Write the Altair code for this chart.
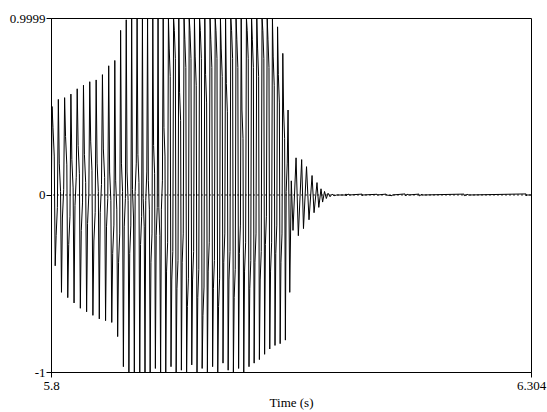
import altair as alt
import pandas as pd

# ---- data (time in s, amplitude) ----
t_start = 5.8
v_start = -0.25

t_peak = [5.8011, 5.8077, 5.8143, 5.8209, 5.8275, 5.8341, 5.8407, 5.8474, 5.8540, 5.8606,
          5.8670, 5.8731, 5.8790, 5.8847, 5.8904, 5.8960, 5.9014, 5.9069, 5.9124, 5.9178,
          5.9233, 5.9287, 5.9342, 5.9397, 5.9451, 5.9506, 5.9560, 5.9615, 5.9670, 5.9724,
          5.9779, 5.9833, 5.9888, 5.9943, 5.9997, 6.0052, 6.0106, 6.0161, 6.0216, 6.0270,
          6.0325, 6.0379, 6.0434, 6.0489]
v_peak = [0.50, 0.54, 0.55, 0.57, 0.60, 0.62, 0.64, 0.65, 0.68, 0.73,
          0.76, 0.93, 0.99, 0.9999, 0.9999, 0.9999, 0.9999, 0.9999, 0.9999, 0.9999,
          0.9999, 0.9999, 0.9999, 0.9999, 0.9999, 0.9999, 0.9999, 0.9999, 0.9999, 0.9999,
          0.9999, 0.9999, 0.9999, 0.9999, 0.9999, 0.9999, 0.9999, 0.9999, 0.9999, 0.9999,
          0.9999, 0.95, 0.80, 0.48]

t_trough = [5.8044, 5.8110, 5.8176, 5.8242, 5.8308, 5.8374, 5.8440, 5.8507, 5.8573, 5.8638,
            5.8700, 5.8760, 5.8818, 5.8875, 5.8932, 5.8987, 5.9041, 5.9096, 5.9151, 5.9205,
            5.9260, 5.9314, 5.9369, 5.9424, 5.9478, 5.9533, 5.9587, 5.9642, 5.9697, 5.9751,
            5.9806, 5.9860, 5.9915, 5.9970, 6.0024, 6.0079, 6.0133, 6.0188, 6.0243, 6.0297,
            6.0352, 6.0406, 6.0461]
v_trough = [-0.40, -0.55, -0.58, -0.61, -0.64, -0.66, -0.68, -0.70, -0.71, -0.72,
            -0.80, -0.97, -1.0, -1.0, -1.0, -1.0, -1.0, -0.98, -1.0, -1.0,
            -0.97, -1.0, -0.99, -1.0, -0.96, -1.0, -0.98, -1.0, -0.97, -1.0,
            -0.95, -0.99, -1.0, -0.98, -1.0, -0.97, -0.95, -0.93, -0.90, -0.87,
            -0.85, -0.84, -0.82]

# level where the falling / rising stroke lingers in each half cycle
v_notch_down = [0.30, 0.10, 0.25, 0.12, 0.20, 0.15, 0.22, 0.10, 0.18, 0.05,
                0.00, 0.10, 0.05, -0.05, 0.15, -0.10, 0.00, 0.20, -0.15, 0.30,
                0.75, 0.85, 0.50, 0.80, 0.85, 0.70, 0.85, 0.60, 0.80, 0.85,
                0.75, 0.55, 0.85, 0.80, 0.40, 0.85, 0.80, 0.75, 0.85, 0.80,
                0.70, 0.60, 0.40]
v_notch_up = [-0.15, -0.05, -0.20, 0.02, -0.12, -0.08, -0.18, -0.02, -0.10, -0.25,
              -0.30, -0.10, -0.25, 0.10, -0.20, 0.05, -0.30, -0.15, 0.00, -0.35,
              -0.40, -0.45, -0.30, -0.55, -0.40, -0.50, -0.60, -0.35, -0.45, -0.55,
              -0.30, -0.40, -0.50, -0.25, -0.35, -0.45, -0.30, -0.40, -0.20, -0.35,
              -0.25, -0.30, 0.10]

t_decay = [6.0507, 6.0523, 6.0541, 6.0573, 6.0597, 6.0632, 6.0651, 6.0683, 6.0709, 6.0741,
           6.0762, 6.0793, 6.0812, 6.0835, 6.0852, 6.0872, 6.0891, 6.0909, 6.0930, 6.0951,
           6.0972, 6.1000]
v_decay = [-0.55, 0.08, -0.20, 0.21, -0.23, 0.20, -0.19, 0.16, -0.14, 0.11,
           -0.10, 0.07, -0.07, 0.035, -0.04, 0.02, -0.02, 0.01, -0.01, 0.005,
           -0.004, 0.0]

t_tail = [6.1095, 6.1097, 6.1099, 6.1101, 6.1129, 6.1131, 6.1266, 6.1268, 6.1270,
          6.1423, 6.1425, 6.1518, 6.1520, 6.1581, 6.1583, 6.1717, 6.1719, 6.1749, 6.1751,
          6.1864, 6.1866, 6.1896, 6.1898, 6.2337, 6.2339, 6.2378, 6.2380,
          6.2988, 6.2990, 6.2992, 6.3040]
v_tail = [0.0, 0.006, -0.005, 0.0, 0.005, 0.0, 0.005, -0.004, 0.0,
          0.004, 0.0, 0.005, 0.0, -0.004, 0.0, 0.006, -0.004, 0.005, 0.0,
          0.005, -0.005, 0.004, 0.0, 0.005, -0.004, 0.004, 0.0,
          0.006, -0.005, 0.0, 0.0]

y_ticks = [-1, 0, 0.9999]
x_ticks = [5.8, 6.304]

# ---- assemble the polyline: spike, linger at the notch level, spike ----
LINGER = 0.08
ts, vs = [t_start], [v_start]
for i in range(len(t_trough)):
    tp, tt, tn = t_peak[i], t_trough[i], t_peak[i + 1]
    ts += [tp, tp + 0.3 * (tt - tp), tp + 0.7 * (tt - tp),
           tt, tt + 0.3 * (tn - tt), tt + 0.7 * (tn - tt)]
    vs += [v_peak[i], v_notch_down[i] + LINGER, v_notch_down[i] - LINGER,
           v_trough[i], v_notch_up[i] - LINGER, v_notch_up[i] + LINGER]
ts.append(t_peak[-1]); vs.append(v_peak[-1])
ts += t_decay; vs += v_decay
ts += t_tail; vs += v_tail
wave = pd.DataFrame({"t": ts, "v": vs, "i": range(len(ts))})

FONT = "Liberation Serif, Times New Roman, serif"

x_enc = alt.X(
    "t:Q",
    scale=alt.Scale(domain=[5.8, 6.304], nice=False, zero=False),
    axis=alt.Axis(
        values=x_ticks, title="Time (s)", grid=False, labelFlush=False,
        labelExpr="datum.value == 5.8 ? '5.8' : '6.304'",
        tickSize=5, labelPadding=2, titlePadding=4,
        titleFont=FONT, titleFontSize=13, titleFontWeight="normal", titleColor="black",
        labelFont=FONT, labelFontSize=13, labelColor="black",
        domainColor="black", tickColor="black",
    ),
)
y_enc = alt.Y(
    "v:Q",
    scale=alt.Scale(domain=[-1, 0.9999], nice=False, zero=False),
    axis=alt.Axis(
        values=y_ticks, title=None, grid=False, labelFlush=False,
        labelExpr="datum.value == 0 ? '0' : (datum.value < 0 ? '-1' : '0.9999')",
        tickSize=5, labelPadding=1,
        labelFont=FONT, labelFontSize=13, labelColor="black",
        domainColor="black", tickColor="black",
    ),
)

line = alt.Chart(wave).mark_line(color="black", strokeWidth=1, clip=True, interpolate="linear").encode(
    x=x_enc, y=y_enc, order="i:Q"
)

zero = alt.Chart(pd.DataFrame({"y0": [0.0]})).mark_rule(
    color="#333333", strokeWidth=1, strokeDash=[2, 2]
).encode(y=alt.Y("y0:Q", scale=alt.Scale(domain=[-1, 0.9999], nice=False, zero=False)))

chart = (
    alt.layer(zero, line)
    .properties(width=480, height=354, autosize=alt.AutoSizeParams(type="none"),
                padding={"left": 51, "top": 18, "right": 16, "bottom": 40},
                background="white")
    .configure_view(stroke="black", strokeWidth=1)
)

chart.save("out.html", embed_options={"renderer": "svg", "actions": False})
